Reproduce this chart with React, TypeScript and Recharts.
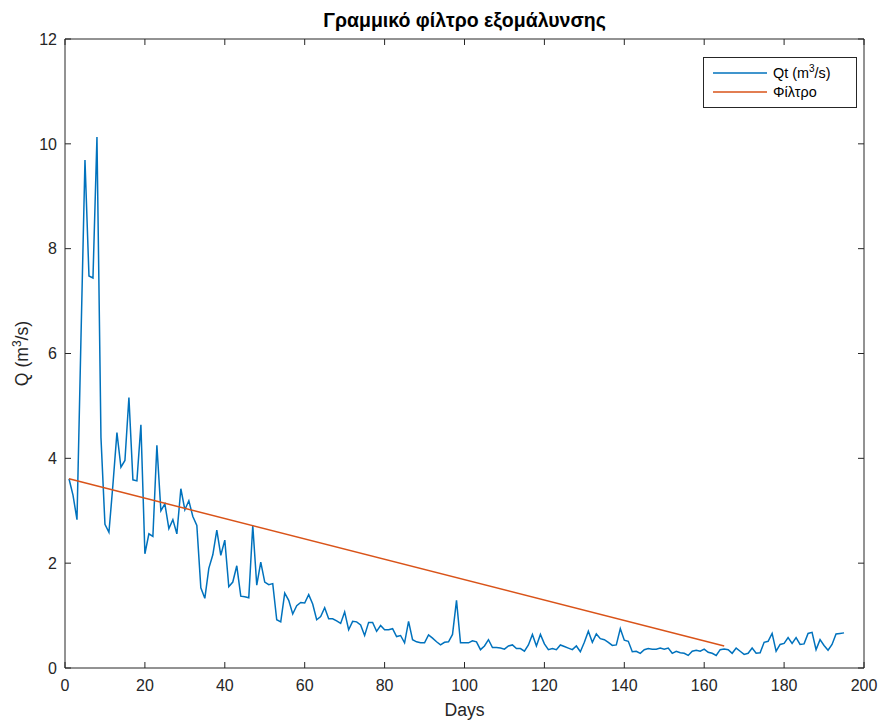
import { LineChart, Line, XAxis, YAxis, Legend, ReferenceLine } from "recharts";

// daily discharge, days 1..195
const qt = [
  3.61, 3.3, 2.83, 6.3, 9.69, 7.48, 7.44, 10.13, 4.4, 2.74,
  2.59, 3.5, 4.49, 3.83, 3.96, 5.16, 3.59, 3.57, 4.64, 2.18,
  2.56, 2.51, 4.25, 3.0, 3.13, 2.66, 2.83, 2.56, 3.42, 3.02,
  3.19, 2.89, 2.72, 1.53, 1.33, 1.9, 2.16, 2.63, 2.15, 2.44,
  1.55, 1.64, 1.95, 1.37, 1.36, 1.34, 2.72, 1.58, 2.02, 1.64,
  1.59, 1.61, 0.92, 0.88, 1.43, 1.29, 1.03, 1.19, 1.25, 1.24,
  1.4, 1.22, 0.92, 0.98, 1.15, 0.94, 0.94, 0.9, 0.85, 1.07,
  0.73, 0.89, 0.88, 0.82, 0.62, 0.87, 0.87, 0.7, 0.81, 0.73,
  0.73, 0.75, 0.6, 0.62, 0.48, 0.89, 0.54, 0.5, 0.48, 0.48,
  0.63, 0.57, 0.5, 0.44, 0.49, 0.5, 0.64, 1.29, 0.48, 0.48,
  0.48, 0.52, 0.5, 0.35, 0.42, 0.54, 0.39, 0.39, 0.38, 0.36,
  0.42, 0.44, 0.37, 0.37, 0.32, 0.44, 0.64, 0.42, 0.64, 0.46,
  0.35, 0.37, 0.35, 0.44, 0.41, 0.38, 0.35, 0.42, 0.31, 0.49,
  0.7, 0.49, 0.65, 0.56, 0.54, 0.49, 0.43, 0.44, 0.75, 0.53,
  0.51, 0.31, 0.32, 0.28, 0.35, 0.37, 0.36, 0.36, 0.38, 0.36,
  0.38, 0.28, 0.32, 0.29, 0.28, 0.24, 0.32, 0.34, 0.32, 0.36,
  0.3, 0.28, 0.24, 0.35, 0.36, 0.35, 0.28, 0.38, 0.32, 0.26,
  0.28, 0.38, 0.28, 0.29, 0.49, 0.51, 0.66, 0.32, 0.45, 0.47,
  0.58, 0.47, 0.58, 0.45, 0.46, 0.66, 0.68, 0.35, 0.54, 0.43,
  0.34, 0.45, 0.65, 0.66, 0.67,
];

// linear smoothing filter end points
const filterDays = [1, 165];
const filterValues = [3.61, 0.42];

const xTicks = [0, 20, 40, 60, 80, 100, 120, 140, 160, 180, 200];
const yTicks = [0, 2, 4, 6, 8, 10, 12];

const W = 880;
const H = 722;
const MARGIN = { top: 39, right: 16, left: 0, bottom: 0 };
const TICK_LEN = 6;
const X_GAP = 12;
const Y_GAP = 8;

const AXIS = "#262626";
const FONT = "'Liberation Sans', Arial, Helvetica, sans-serif";

const qtData = qt.map((v, i) => ({ day: i + 1, qt: v }));
const filterData = filterDays.map((d, i) => ({ day: d, filter: filterValues[i] }));

// matlab style: ticks point inwards, on both sides of the box
function XTick(props: any) {
  const { x, y, payload } = props;
  const axisY = y - X_GAP;
  return (
    <g>
      <line x1={x} x2={x} y1={axisY} y2={axisY - TICK_LEN} stroke={AXIS} />
      <line x1={x} x2={x} y1={MARGIN.top} y2={MARGIN.top + TICK_LEN} stroke={AXIS} />
      <text x={x} y={y} dy="0.71em" textAnchor="middle" fontSize={16} fill={AXIS} fontFamily={FONT}>
        {payload.value}
      </text>
    </g>
  );
}

function YTick(props: any) {
  const { x, y, payload } = props;
  const axisX = x + Y_GAP;
  const rightX = W - MARGIN.right;
  return (
    <g>
      <line x1={axisX} x2={axisX + TICK_LEN} y1={y} y2={y} stroke={AXIS} />
      <line x1={rightX} x2={rightX - TICK_LEN} y1={y} y2={y} stroke={AXIS} />
      <text x={x} y={y} dy="0.355em" textAnchor="end" fontSize={16} fill={AXIS} fontFamily={FONT}>
        {payload.value}
      </text>
    </g>
  );
}

function TitleLabel(props: any) {
  const { viewBox } = props;
  const cx = viewBox.x + viewBox.width / 2;
  return (
    <text x={cx} y={viewBox.y - 12} textAnchor="middle" fontSize={19.5} fontWeight="bold" fill="#000" fontFamily={FONT}>
      Γραμμικό φίλτρο εξομάλυνσης
    </text>
  );
}

function XLabel(props: any) {
  const { viewBox } = props;
  const cx = viewBox.x + viewBox.width / 2;
  return (
    <text x={cx} y={viewBox.y + 48} textAnchor="middle" fontSize={17.6} fill={AXIS} fontFamily={FONT}>
      Days
    </text>
  );
}

function YLabel(props: any) {
  const { viewBox } = props;
  const cx = 28;
  const cy = viewBox.y + viewBox.height / 2;
  return (
    <text x={cx} y={cy} transform={`rotate(-90 ${cx} ${cy})`} textAnchor="middle" fontSize={17.6} fill={AXIS} fontFamily={FONT}>
      Q (m<tspan dy={-7} fontSize={12}>3</tspan><tspan dy={7}>/s)</tspan>
    </text>
  );
}

function LegendBox({ payload }: any) {
  const items = payload || [];
  return (
    <svg width={154} height={51} style={{ display: "block" }}>
      <rect x={0.5} y={0.5} width={153} height={50} fill="#fff" stroke={AXIS} strokeWidth={1} />
      {items.map((p: any, i: number) => {
        const y = 16 + i * 19;
        return (
          <g key={i}>
            <line x1={10} x2={64} y1={y} y2={y} stroke={p.color} strokeWidth={1.5} />
            <text x={70} y={y + 5} fontSize={14.4} fill="#000" fontFamily={FONT}>
              {p.dataKey === "qt" ? (
                <>
                  Qt (m<tspan dy={-6} fontSize={10}>3</tspan><tspan dy={6}>/s)</tspan>
                </>
              ) : (
                p.value
              )}
            </text>
          </g>
        );
      })}
    </svg>
  );
}

export default function App() {
  return (
    <div style={{ position: "absolute", left: 0, top: 0, background: "#fff" }}>
      <LineChart width={W} height={H} margin={MARGIN}>
        <XAxis
          dataKey="day"
          type="number"
          domain={[0, 200]}
          ticks={xTicks}
          height={54}
          stroke={AXIS}
          tickLine={false}
          tickSize={0}
          tickMargin={X_GAP}
          tick={<XTick />}
          label={<XLabel />}
        />
        <YAxis
          type="number"
          domain={[0, 12]}
          ticks={yTicks}
          width={65}
          stroke={AXIS}
          tickLine={false}
          tickSize={0}
          tickMargin={Y_GAP}
          tick={<YTick />}
          label={<YLabel />}
        />
        {/* box: top and right edges */}
        <ReferenceLine y={12} stroke={AXIS} strokeWidth={1} label={<TitleLabel />} />
        <ReferenceLine x={200} stroke={AXIS} strokeWidth={1} />
        <Legend
          layout="vertical"
          align="center"
          verticalAlign="middle"
          content={<LegendBox />}
          wrapperStyle={{ left: 703, top: 57, width: 154, height: 51 }}
        />
        <Line
          data={qtData}
          dataKey="qt"
          name="Qt (m3/s)"
          type="linear"
          stroke="#0072BD"
          strokeWidth={1.5}
          dot={false}
          isAnimationActive={false}
        />
        <Line
          data={filterData}
          dataKey="filter"
          name="Φίλτρο"
          type="linear"
          stroke="#D95319"
          strokeWidth={1.5}
          dot={false}
          isAnimationActive={false}
        />
      </LineChart>
    </div>
  );
}
